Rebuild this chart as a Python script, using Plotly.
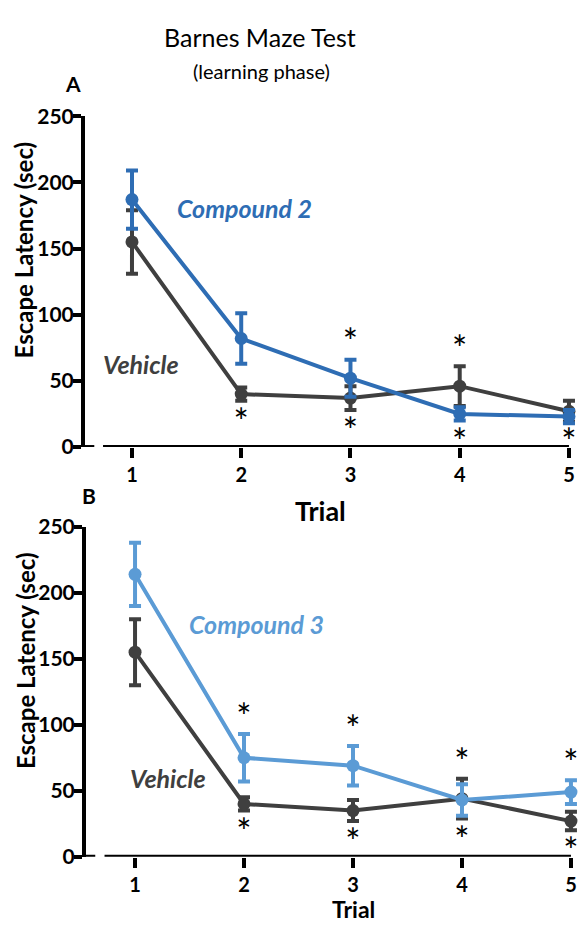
import plotly.graph_objects as go

# Barnes maze learning phase: mean escape latency (sec) +/- SEM per trial
trials = [1, 2, 3, 4, 5]

veh_a = [155, 40, 37, 46, 27]
veh_a_err = [24, 5, 9, 15, 8]
cmp2 = [187, 82, 52, 25, 23]
cmp2_err = [22, 19, 14, 5, 5]

veh_b = [155, 40, 35, 44, 27]
veh_b_err = [25, 5, 8, 15, 7]
cmp3 = [214, 75, 69, 43, 49]
cmp3_err = [24, 18, 15, 12, 9]

# trials with significance marks above / below the curves
sig_above_a = [3, 4]
sig_below_a = [2, 3, 4, 5]
sig_above_b = [2, 3, 4, 5]
sig_below_b = [2, 3, 4, 5]

y_ticks = [0, 50, 100, 150, 200, 250]

W, H = 580, 930
DARK = "#3f3f3f"
BLUE = "#2e6db4"
LIGHT = "#5b9bd5"
FONT = "Lato"


def px(x):
    return x / W


def py(y):
    return 1 - y / H


fig = go.Figure()


def series(xa, ya, y, err, color):
    fig.add_trace(go.Scatter(
        x=trials, y=y, xaxis=xa, yaxis=ya, mode="lines+markers",
        line=dict(color=color, width=4),
        marker=dict(color=color, size=13),
        error_y=dict(type="data", array=err, color=color, thickness=4, width=6),
        cliponaxis=False, showlegend=False, hoverinfo="skip",
    ))


def stars(xa, ya, above, below, s1, e1, s2, e2):
    # asterisks sit just beyond the outermost error bar of either group
    hi = {t: max(a + b, c + d) for t, a, b, c, d in zip(trials, s1, e1, s2, e2)}
    lo = {t: min(a - b, c - d) for t, a, b, c, d in zip(trials, s1, e1, s2, e2)}
    xs = list(above) + list(below)
    ys = [hi[t] + 10 for t in above] + [max(lo[t] - 19, 1) for t in below]
    fig.add_trace(go.Scatter(
        x=xs, y=ys, xaxis=xa, yaxis=ya, mode="text", text=["*"] * len(xs),
        textfont=dict(family=FONT, size=36, color="black"),
        cliponaxis=False, showlegend=False, hoverinfo="skip",
    ))


series("x", "y", veh_a, veh_a_err, DARK)
series("x", "y", cmp2, cmp2_err, BLUE)
stars("x", "y", sig_above_a, sig_below_a, veh_a, veh_a_err, cmp2, cmp2_err)

series("x2", "y2", veh_b, veh_b_err, DARK)
series("x2", "y2", cmp3, cmp3_err, LIGHT)
stars("x2", "y2", sig_above_b, sig_below_b, veh_b, veh_b_err, cmp3, cmp3_err)

tickfont = dict(family=FONT, size=21, color="black", weight="bold")
xtickfont = dict(family=FONT, size=20, color="black", weight="bold")


def xaxis_cfg(left, rng, anchor):
    return dict(
        domain=[px(left), 1], range=rng, anchor=anchor,
        tickvals=trials, ticks="outside", ticklen=10, tickwidth=4,
        tickcolor="black", showline=False, showgrid=False, zeroline=False,
        tickfont=xtickfont, fixedrange=True, ticklabelstandoff=0,
    )


def yaxis_cfg(bottom, top, anchor):
    return dict(
        domain=[py(bottom), py(top)], range=[0, 250], anchor=anchor,
        tickvals=y_ticks, ticks="outside", ticklen=8, tickwidth=4,
        tickcolor="black", showline=True, linewidth=4, linecolor="black",
        showgrid=False, zeroline=False, tickfont=tickfont, fixedrange=True,
        ticklabelstandoff=-5,
    )


fig.update_layout(
    width=W, height=H,
    margin=dict(l=0, r=0, t=0, b=0),
    paper_bgcolor="white", plot_bgcolor="white",
    xaxis=xaxis_cfg(85, [0.570, 5.101], "y"),
    yaxis=yaxis_cfg(445, 105, "x"),
    xaxis2=xaxis_cfg(86, [0.550, 5.083], "y2"),
    yaxis2=yaxis_cfg(866, 527, "x2"),
)

# x axis lines stop short of the y axis (Prism style); y axis gets a short foot
for xr, yr, left, x0 in [("x", "y", 0.570, 0.735), ("x2", "y2", 0.550, 0.72)]:
    fig.add_shape(type="line", xref=xr, yref=yr, x0=x0, x1=5, y0=0, y1=0,
                  line=dict(color="black", width=4))
    fig.add_shape(type="line", xref=xr, yref=yr, x0=left, x1=left + 0.085,
                  y0=0, y1=0, line=dict(color="black", width=4))


def label(x, y, text, size, color="black", bold=False, italic=False, angle=0):
    fig.add_annotation(
        x=px(x), y=py(y), xref="paper", yref="paper", text=text,
        showarrow=False, xanchor="center", yanchor="middle", textangle=angle,
        font=dict(family=FONT, size=size, color=color,
                  weight="bold" if bold else "normal",
                  style="italic" if italic else "normal"),
    )


label(260, 24, "Barnes Maze Test", 25)
label(261, 59, "(learning phase)", 20)
label(73, 71, "A", 21, bold=True)
label(89, 495, "B", 21, bold=True)

label(244, 199, "Compound 2", 25, BLUE, bold=True, italic=True)
label(141, 360, "Vehicle", 25, DARK, bold=True, italic=True)
label(256, 627, "Compound 3", 25, LIGHT, bold=True, italic=True)
label(168, 785, "Vehicle", 25, DARK, bold=True, italic=True)

label(23, 243, "Escape Latency (sec)", 24, bold=True, angle=-90)
label(25, 665, "Escape Latency (sec)", 24, bold=True, angle=-90)
label(320, 510, "Trial", 27, bold=True)
label(353, 920, "Trial", 23, bold=True)

fig.write_html("out.html")
